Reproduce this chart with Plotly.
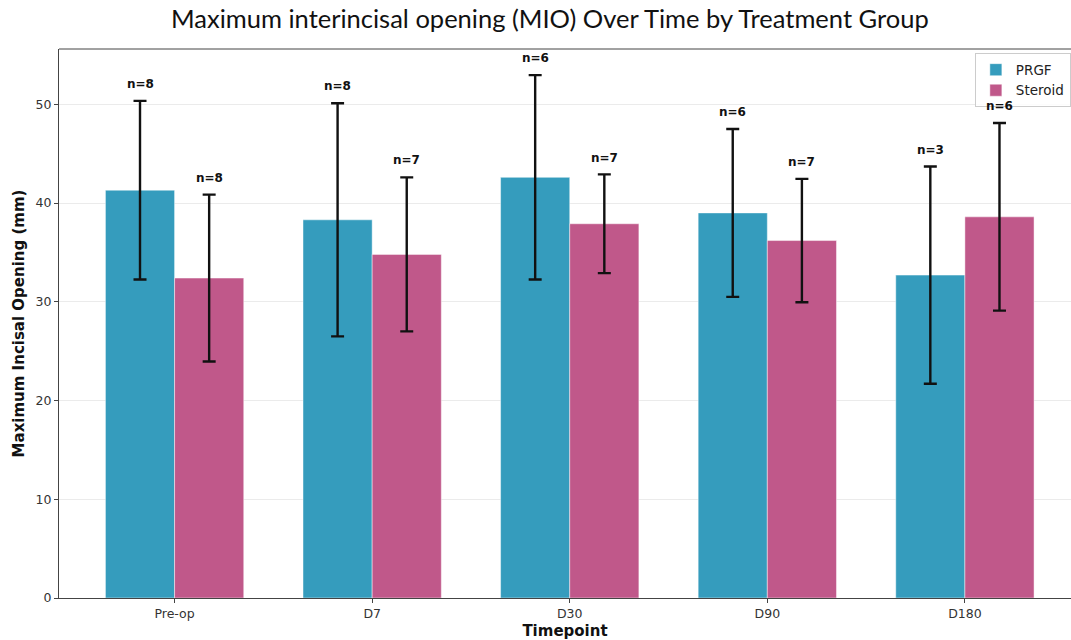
import plotly.graph_objects as go

# Maximum interincisal opening by timepoint and treatment group (mean ± SD, mm)
timepoints = ["Pre-op", "D7", "D30", "D90", "D180"]
prgf_mean = [41.3, 38.3, 42.6, 39.0, 32.7]
prgf_sd = [9.05, 11.8, 10.35, 8.5, 11.0]
prgf_n = [8, 8, 6, 6, 3]
steroid_mean = [32.4, 34.8, 37.9, 36.2, 38.6]
steroid_sd = [8.45, 7.8, 5.0, 6.25, 9.5]
steroid_n = [8, 7, 7, 7, 6]

y_ticks = [0, 10, 20, 30, 40, 50]

PRGF_COLOR = "#359cbd"
STEROID_COLOR = "#c0588a"
BAR_W = 0.35
FONT = "DejaVu Sans"

idx = list(range(len(timepoints)))
x_prgf = [i - BAR_W / 2 for i in idx]
x_ster = [i + BAR_W / 2 for i in idx]

fig = go.Figure()

for name, xs, means, sds, color in [
    ("PRGF", x_prgf, prgf_mean, prgf_sd, PRGF_COLOR),
    ("Steroid", x_ster, steroid_mean, steroid_sd, STEROID_COLOR),
]:
    fig.add_trace(go.Bar(
        name=name, x=xs, y=means, width=BAR_W,
        marker=dict(color=color, line=dict(color="rgba(255,255,255,0.45)", width=1)),
        error_y=dict(type="data", array=sds, visible=True,
                     color="#111111", thickness=2.4, width=6.5),
    ))

# sample-size labels above each error bar
annotations = []
for xs, means, sds, ns in [
    (x_prgf, prgf_mean, prgf_sd, prgf_n),
    (x_ster, steroid_mean, steroid_sd, steroid_n),
]:
    for x, m, s, n in zip(xs, means, sds, ns):
        annotations.append(dict(
            x=x, y=m + s + 0.8, xref="x", yref="y",
            text=f"<b>n={n}</b>", showarrow=False, yanchor="bottom",
            font=dict(family=FONT, size=12, color="#111111"),
        ))

annotations.append(dict(
    x=0.5, y=1.0, xref="paper", yref="paper", yshift=31, xshift=-15,
    text="Maximum interincisal opening (MIO) Over Time by Treatment Group",
    showarrow=False, xanchor="center", yanchor="middle",
    font=dict(family="Lato, sans-serif", size=25.5, color="#111111"),
))

fig.update_layout(
    width=1071, height=640,
    margin=dict(l=59, r=0, t=49, b=42),
    paper_bgcolor="white", plot_bgcolor="white",
    barmode="overlay",
    showlegend=True,
    legend=dict(
        x=0.905, y=0.992, xanchor="left", yanchor="top",
        bgcolor="rgba(255,255,255,0.85)", bordercolor="#cccccc", borderwidth=1,
        font=dict(family=FONT, size=13.5, color="#222222"),
        itemwidth=30, tracegroupgap=0,
    ),
    annotations=annotations,
    shapes=[dict(type="line", xref="paper", yref="paper", x0=0, x1=1, y0=1, y1=1,
                 line=dict(color="#444444", width=1))],
)

fig.update_xaxes(
    range=[-0.585, 4.537],
    tickmode="array", tickvals=idx, ticktext=timepoints,
    showline=True, linecolor="#444444", linewidth=1,
    ticks="outside", ticklen=4, tickcolor="#444444",
    tickfont=dict(family=FONT, size=12.5, color="#333333"),
    showgrid=False, zeroline=False,
    title=dict(text="<b>Timepoint</b>", font=dict(family=FONT, size=15, color="#111111"),
               standoff=7),
)
fig.update_yaxes(
    range=[0, 55.6],
    tickmode="array", tickvals=y_ticks,
    showline=True, linecolor="#444444", linewidth=1,
    ticks="outside", ticklen=4, tickcolor="#444444",
    tickfont=dict(family=FONT, size=12.5, color="#333333"),
    showgrid=True, gridcolor="#ebebeb", gridwidth=1, zeroline=False,
    title=dict(text="<b>Maximum Incisal Opening (mm)</b>",
               font=dict(family=FONT, size=15, color="#111111"), standoff=7),
)

fig.write_html("out.html")
